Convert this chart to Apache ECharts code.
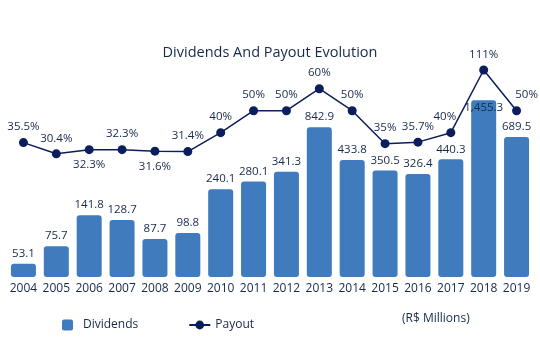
<!DOCTYPE html>
<html><head><meta charset="utf-8">
<script src="https://cdn.jsdelivr.net/npm/echarts@6/dist/echarts.min.js"></script>
<style>html,body{margin:0;padding:0;background:#fff}#c{width:540px;height:364px}</style>
</head><body><div id="c"></div>
<script>
var years = ['2004','2005','2006','2007','2008','2009','2010','2011','2012','2013','2014','2015','2016','2017','2018','2019'];
var dividends = [53.1,75.7,141.8,128.7,87.7,98.8,240.1,280.1,341.3,842.9,433.8,350.5,326.4,440.3,1455.3,689.5];
var payout = [35.5,30.4,32.3,32.3,31.6,31.4,40,50,50,60,50,35,35.7,40,111,50];
var payoutLabels = ['35.5%','30.4%','32.3%','32.3%','31.6%','31.4%','40%','50%','50%','60%','50%','35%','35.7%','40%','111%','50%'];
var labelBelow = [false,false,true,false,true,false,false,false,false,false,false,false,false,false,false,false];

var txt = '#16294a', barC = '#3f7bbd', lineC = '#0b1e5b', font = 'Open Sans';
var chart = echarts.init(document.getElementById('c'), null, {renderer:'canvas'});

function fmt(v){ return v.toLocaleString('en-US',{minimumFractionDigits:1, maximumFractionDigits:1}); }

var barData = dividends.map(function(v,i){
  var d = {value:v};
  if (years[i]==='2018') d.label = {position:'insideTop', distance:1};
  return d;
});
var lineData = payout.map(function(v,i){
  var d = {value:v, label:{position: labelBelow[i] ? 'bottom' : 'top'}};
  if (years[i]==='2019') d.label.offset = [10,0];
  if (years[i]==='2017') d.label.offset = [-6,0];
  return d;
});

chart.setOption({
  animation:false,
  textStyle:{fontFamily:font},
  title:{text:'Dividends And Payout Evolution', left:'center', top:40,
    textStyle:{fontFamily:font, fontSize:14.5, fontWeight:'normal', color:txt}},
  legend:{left:57, top:314, itemGap:50, itemWidth:21, itemHeight:11,
    textStyle:{fontFamily:font, fontSize:12, color:txt, padding:[0,0,0,0]},
    data:[{name:'Dividends', icon:'path://M2,0h7a2,2 0 0 1 2,2v7a2,2 0 0 1 -2,2h-7a2,2 0 0 1 -2,-2v-7a2,2 0 0 1 2,-2z'},{name:'Payout'}]},
  graphic:[{type:'text', left:402, top:313, style:{text:'(R$ Millions)', font:'12px "Open Sans"', fill:txt}}],
  grid:{left:7, right:7, top:50.2, bottom:364-277, containLabel:false},
  xAxis:{type:'category', data:years, axisLine:{show:false}, axisTick:{show:false},
    axisLabel:{color:txt, fontSize:12, fontFamily:font, margin:6, interval:0}},
  yAxis:[
    {type:'log', min:40.5, max:4014, show:false, splitLine:{show:false}},
    {type:'value', min:-25.6, max:120, show:false, splitLine:{show:false},
     breaks:[{start:68, end:110.5, gap:0}], breakArea:{show:false}}
  ],
  series:[
    {name:'Dividends', type:'bar', yAxisIndex:0, barWidth:25, data:barData,
     itemStyle:{color:barC, borderRadius:3},
     label:{show:true, position:'top', distance:4, color:txt, fontSize:11.5, fontFamily:font,
       formatter:function(p){return fmt(p.value);}}},
    {name:'Payout', type:'line', yAxisIndex:1, data:lineData, symbol:'circle', symbolSize:9,
     itemStyle:{color:lineC}, lineStyle:{color:lineC, width:1.5},
     label:{show:true, color:txt, fontSize:11.5, fontFamily:font, distance:5,
       formatter:function(p){return payoutLabels[p.dataIndex];}}}
  ]
});
</script></body></html>
